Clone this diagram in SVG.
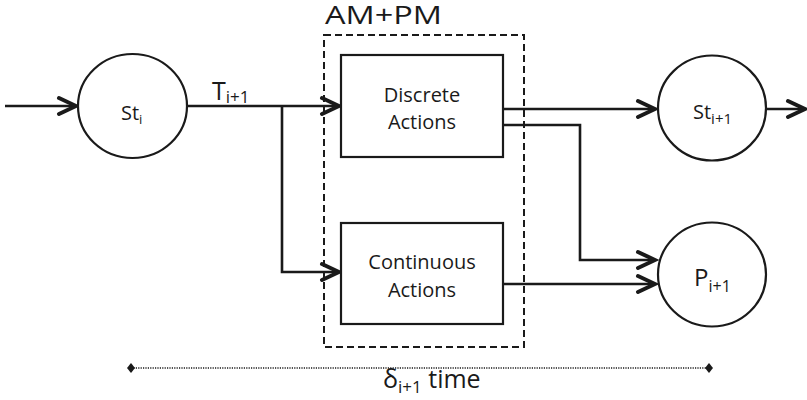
<svg xmlns="http://www.w3.org/2000/svg" width="807" height="400" viewBox="0 0 807 400">
  <style>
    .line { fill: none; stroke: #1a1a1a; stroke-width: 2.6; }
    .arrow { marker-end: url(#chev); }
    .shape { fill: #ffffff; stroke: #1a1a1a; stroke-width: 2.2; }
    .group { fill: none; stroke: #1a1a1a; stroke-width: 2; stroke-dasharray: 7 4; }
    .span { fill: none; stroke: #1a1a1a; stroke-width: 1.6; stroke-dasharray: 1.2 1.2; }
    text { font-family: "Open Sans", "Liberation Sans", sans-serif; fill: #1a1a1a; }
    .lbl { font-size: 20px; text-anchor: middle; }
  </style>
  <defs>
    <marker id="chev" viewBox="-22 -12 26 24" markerWidth="26" markerHeight="24" refX="0" refY="0" orient="auto" markerUnits="userSpaceOnUse">
      <path d="M-17,-8 L0,0 L-17,8" fill="none" stroke="#1a1a1a" stroke-width="4" stroke-linejoin="miter" stroke-linecap="round"/>
    </marker>
    <path id="diamond" d="M0,-5 L4,0 L0,5 L-4,0 Z" fill="#1a1a1a"/>
  </defs>

  <!-- connectors -->
  <g id="connectors">
    <line class="line arrow" x1="5" y1="106" x2="76" y2="106"/>
    <line class="line arrow" x1="187" y1="106" x2="339" y2="106"/>
    <polyline class="line arrow" points="282,106 282,272 339,272"/>
    <line class="line arrow" x1="503" y1="109" x2="655" y2="109"/>
    <polyline class="line arrow" points="503,125 580,125 580,260 655,260"/>
    <line class="line arrow" x1="503" y1="284" x2="655" y2="284"/>
    <line class="line arrow" x1="766" y1="109" x2="805" y2="109"/>
  </g>

  <!-- AM+PM grouping -->
  <g id="ampm">
    <rect class="group" x="324" y="35" width="200" height="312"/>
    <text x="325" y="24" font-size="26" textLength="117" lengthAdjust="spacingAndGlyphs">AM+PM</text>
  </g>

  <!-- states -->
  <g id="st-i">
    <ellipse class="shape" cx="132.5" cy="106" rx="54.5" ry="52"/>
    <text x="121" y="120" font-size="20">St<tspan font-size="13" dy="4">i</tspan></text>
  </g>

  <g id="discrete-actions">
    <rect class="shape" x="341" y="55" width="162" height="102"/>
    <text class="lbl" x="422" y="102">Discrete</text>
    <text class="lbl" x="422" y="129">Actions</text>
  </g>

  <g id="continuous-actions">
    <rect class="shape" x="341" y="223" width="162" height="101"/>
    <text class="lbl" x="422" y="269">Continuous</text>
    <text class="lbl" x="422" y="297">Actions</text>
  </g>

  <g id="st-next">
    <ellipse class="shape" cx="712" cy="108" rx="54" ry="52.5"/>
    <text x="693" y="119" font-size="20">St<tspan font-size="15" dy="5">i+1</tspan></text>
  </g>

  <g id="p-next">
    <ellipse class="shape" cx="712" cy="274.5" rx="54" ry="52"/>
    <text x="694" y="286" font-size="24">P<tspan font-size="16" dy="6">i+1</tspan></text>
  </g>

  <!-- transition label -->
  <g id="t-label">
    <text x="212" y="100" font-size="25">T<tspan font-size="17" dy="3">i+1</tspan></text>
  </g>

  <!-- time span -->
  <g id="time-span">
    <line class="span" x1="131" y1="368" x2="709" y2="368"/>
    <use href="#diamond" x="131" y="368"/>
    <use href="#diamond" x="709" y="368"/>
    <text x="383" y="388" font-size="25">δ<tspan font-size="17" dy="5">i+1</tspan><tspan dy="-5"> time</tspan></text>
  </g>
</svg>
